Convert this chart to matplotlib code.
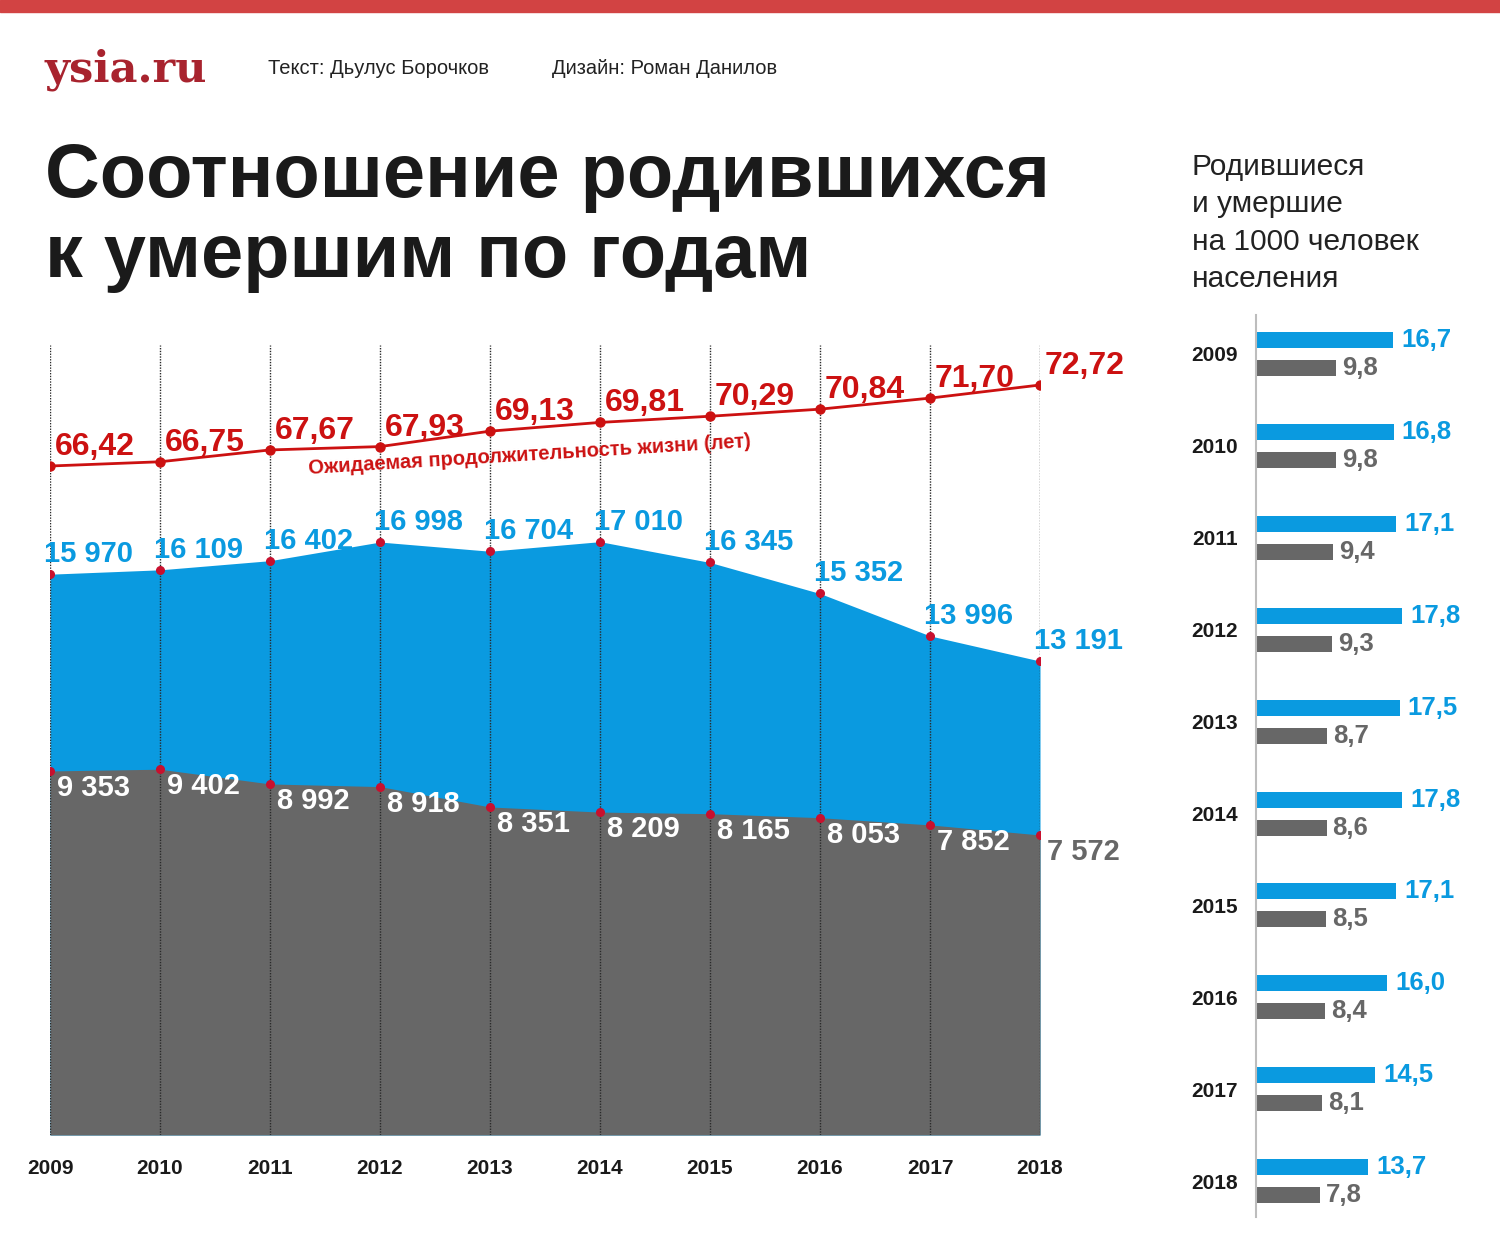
import matplotlib
matplotlib.use("Agg")
from matplotlib import pyplot as plt

years = [2009, 2010, 2011, 2012, 2013, 2014, 2015, 2016, 2017, 2018]
births = [15970, 16109, 16402, 16998, 16704, 17010, 16345, 15352, 13996, 13191]
deaths = [9353, 9402, 8992, 8918, 8351, 8209, 8165, 8053, 7852, 7572]
life_exp = [66.42, 66.75, 67.67, 67.93, 69.13, 69.81, 70.29, 70.84, 71.70, 72.72]
births_rate = [16.7, 16.8, 17.1, 17.8, 17.5, 17.8, 17.1, 16.0, 14.5, 13.7]
deaths_rate = [9.8, 9.8, 9.4, 9.3, 8.7, 8.6, 8.5, 8.4, 8.1, 7.8]

BLUE = "#0a9ae0"
GRAY = "#676767"
RED = "#cc1111"
DOT = "#c8102e"
plt.rcParams["font.family"] = ["Liberation Sans", "DejaVu Sans"]


def fmt_int(v):
    return f"{v:,}".replace(",", " ")


def fmt_dec(v, nd):
    return f"{v:.{nd}f}".replace(".", ",")


W, H = 1500, 1259
fig = plt.figure(figsize=(15, 12.59), dpi=100)


def box(x0, y0, x1, y1):
    # pixel box (top-left origin) -> figure fraction rect
    return [x0 / W, 1 - y1 / H, (x1 - x0) / W, (y1 - y0) / H]


# header
fig.patches.append(plt.Rectangle((0, 1 - 12 / H), 1, 12 / H, transform=fig.transFigure,
                                 color="#d24343", zorder=0))
fig.text(45 / W, 1 - 70 / H, "ysia.ru", family=["DejaVu Serif"], weight="bold",
         fontsize=31, color="#a8232e", va="center", ha="left")
fig.text(268 / W, 1 - 68 / H, "Текст: Дьулус Борочков", fontsize=14.5,
         color="#222222", va="center")
fig.text(552 / W, 1 - 68 / H, "Дизайн: Роман Данилов", fontsize=14.5,
         color="#222222", va="center")
fig.text(45 / W, 1 - 197 / H, "Соотношение родившихся", weight="bold", fontsize=54.5,
         color="#1a1a1a", va="baseline")
fig.text(45 / W, 1 - 277 / H, "к умершим по годам", weight="bold", fontsize=54.5,
         color="#1a1a1a", va="baseline")

# ---- main area chart ----
rect = box(50, 345, 1040, 1135)
ax_b = fig.add_axes(rect)
ax_d = fig.add_axes(rect, sharex=ax_b)
ax_l = fig.add_axes(rect, sharex=ax_b)
for a in (ax_b, ax_d, ax_l):
    a.patch.set_alpha(0)
    for s in a.spines.values():
        s.set_visible(False)
    a.set_yticks([])
ax_b.set_xlim(2009, 2018)
ax_b.set_ylim(-1970, 23301)
ax_d.set_ylim(-776, 21205)
ax_l.set_ylim(14.40, 75.83)

ax_b.fill_between(years, births, -1970, color=BLUE, lw=0)
ax_d.fill_between(years, deaths, -776, color=GRAY, lw=0)

for y in years:
    ax_l.axvline(y, color="#2a2a2a", lw=1, ls=(0, (1, 1)), zorder=1)

ax_l.plot(years, life_exp, color=RED, lw=2, zorder=3)
ax_l.plot(years, life_exp, "o", color=RED, ms=6.5, zorder=4)
ax_l.plot(years, births, "o", color=DOT, ms=5.5, zorder=4, transform=ax_b.transData)
ax_l.plot(years, deaths, "o", color=DOT, ms=5.5, zorder=4, transform=ax_d.transData)

for i, y in enumerate(years):
    ax_l.annotate(fmt_dec(life_exp[i], 2), (y, life_exp[i]), xytext=(5, 19),
                  textcoords="offset pixels", ha="left", va="center",
                  fontsize=23, weight="bold", color=RED, annotation_clip=False)
    ax_l.annotate(fmt_int(births[i]), (y, births[i]), xycoords=ax_b.transData,
                  xytext=(-6, 20), textcoords="offset pixels", ha="left", va="center",
                  fontsize=21, weight="bold", color=BLUE, annotation_clip=False)
    ax_l.annotate(fmt_int(deaths[i]), (y, deaths[i]), xycoords=ax_d.transData,
                  xytext=(7, -17), textcoords="offset pixels", ha="left", va="center",
                  fontsize=21, weight="bold", color="white" if i < 9 else GRAY,
                  annotation_clip=False)

ax_l.text(2013.36, 67.25, "Ожидаемая продолжительность жизни (лет)", ha="center", va="center",
          rotation=3.5, rotation_mode="anchor", fontsize=14.5, weight="bold", color=RED)

ax_l.set_xticks(years)
ax_l.set_xticklabels([str(y) for y in years], fontsize=15, weight="bold", color="#1a1a1a")
ax_l.tick_params(axis="x", length=0, pad=17)
for a in (ax_b, ax_d):
    a.tick_params(axis="x", labelbottom=False, length=0)

# ---- right panel ----
fig.text(1192 / W, 1 - 223 / H, "Родившиеся\nи умершие\nна 1000 человек\nнаселения",
         fontsize=21.5, color="#222222", va="center", ha="left", linespacing=1.43)

ax_r = fig.add_axes(box(1256, 315, 1480, 1217))
ax_r.set_xlim(0, 224 / 8.2)
ax_r.set_ylim(9.39, -0.424)
pos = list(range(len(years)))
off = 14 / 91.9
bh = 16 / 91.9
ax_r.barh([p - off for p in pos], births_rate, height=bh, color=BLUE, lw=0)
ax_r.barh([p + off for p in pos], deaths_rate, height=bh, color=GRAY, lw=0)
for p in pos:
    ax_r.annotate(fmt_dec(births_rate[p], 1), (births_rate[p], p - off), xytext=(8, 0),
                  textcoords="offset pixels", ha="left", va="center", fontsize=18.5,
                  weight="bold", color=BLUE, annotation_clip=False)
    ax_r.annotate(fmt_dec(deaths_rate[p], 1), (deaths_rate[p], p + off), xytext=(6, 0),
                  textcoords="offset pixels", ha="left", va="center", fontsize=18.5,
                  weight="bold", color=GRAY, annotation_clip=False)
ax_r.set_yticks(pos)
ax_r.set_yticklabels([str(y) for y in years], fontsize=15, weight="bold", color="#1a1a1a")
ax_r.tick_params(axis="y", length=0, pad=13)
ax_r.set_xticks([])
for k, s in ax_r.spines.items():
    s.set_visible(k == "left")
ax_r.spines["left"].set_color("#bdbdbd")
ax_r.spines["left"].set_linewidth(1.5)
ax_r.patch.set_alpha(0)

fig.savefig("out.png", dpi=100)
